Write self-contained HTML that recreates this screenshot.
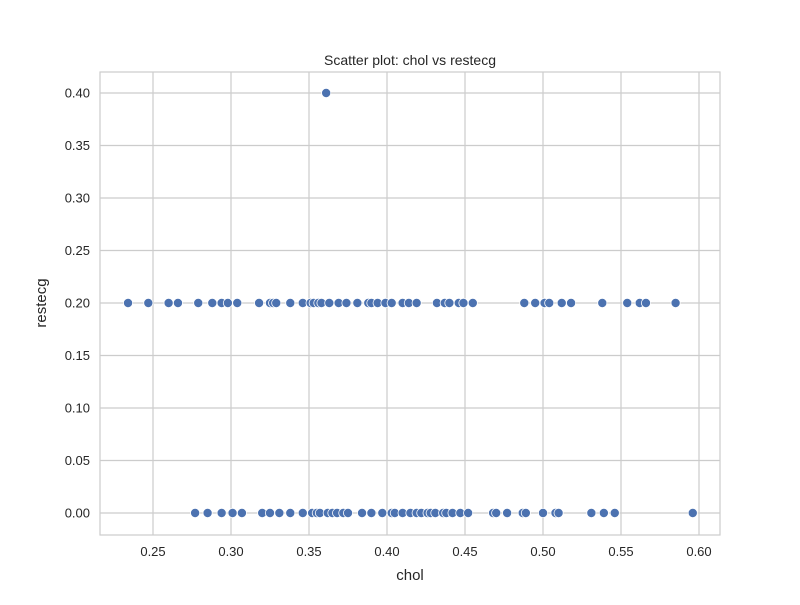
<!DOCTYPE html>
<html><head><meta charset="utf-8"><style>
body{margin:0;background:#fff;font-family:"Liberation Sans","DejaVu Sans",sans-serif;}
svg text{fill:#262626;}
</style></head><body>
<svg id="chart" width="800" height="600" xmlns="http://www.w3.org/2000/svg">
<rect width="800" height="600" fill="#fff"/>
<g id="grid"></g>
<rect x="100" y="72" width="620" height="463" fill="none" stroke="#cccccc" stroke-width="1.2"/>
<g id="ticks"></g>
<g id="points"></g>
<text x="410" y="65" text-anchor="middle" font-size="14">Scatter plot: chol vs restecg</text>
<text x="410" y="580" text-anchor="middle" font-size="15">chol</text>
<text transform="translate(46,303) rotate(-90)" text-anchor="middle" font-size="15">restecg</text>
</svg>
<script>
const xTicks=[0.25,0.30,0.35,0.40,0.45,0.50,0.55,0.60];
const yTicks=[0.00,0.05,0.10,0.15,0.20,0.25,0.30,0.35,0.40];
const cholRow20=[0.234,0.247,0.260,0.266,0.279,0.288,0.294,0.298,0.304,0.318,0.325,0.327,0.329,0.338,0.346,0.351,0.353,0.356,0.358,0.363,0.369,0.374,0.381,0.388,0.390,0.394,0.399,0.403,0.410,0.414,0.419,0.432,0.437,0.440,0.446,0.449,0.455,0.488,0.495,0.501,0.504,0.512,0.518,0.538,0.554,0.562,0.566,0.585];
const cholRow0=[0.277,0.285,0.294,0.301,0.307,0.320,0.325,0.331,0.338,0.346,0.352,0.355,0.357,0.362,0.365,0.368,0.372,0.375,0.384,0.390,0.397,0.403,0.405,0.410,0.415,0.419,0.422,0.426,0.428,0.431,0.436,0.438,0.442,0.447,0.452,0.468,0.470,0.477,0.487,0.489,0.500,0.508,0.510,0.531,0.539,0.546,0.596];
const cholOther=[0.361];
const restOther=[0.40];
const xs=v=>153+(v-0.25)*1560;
const ys=v=>513-v*1050;
const NS="http://www.w3.org/2000/svg";
const grid=document.getElementById('grid'),tk=document.getElementById('ticks'),pts=document.getElementById('points');
function mk(tag,attrs,parent){const e=document.createElementNS(NS,tag);for(const k in attrs)e.setAttribute(k,attrs[k]);parent.appendChild(e);return e;}
xTicks.forEach(t=>{
 const l=mk('line',{x1:xs(t),x2:xs(t),y1:72,y2:535,stroke:'#cccccc','stroke-width':1.2},grid);
 
 
 const tx=mk('text',{x:xs(t),y:556,'text-anchor':'middle','font-size':13},tk);
 tx.textContent=t.toFixed(2);
 
 
});
yTicks.forEach(t=>{
 const l=mk('line',{x1:100,x2:720,y1:ys(t),y2:ys(t),stroke:'#cccccc','stroke-width':1.2},grid);
 
 
 const tx=mk('text',{x:90,y:ys(t)+4.5,'text-anchor':'end','font-size':13},tk);
 tx.textContent=t.toFixed(2);
 
 
});
function dot(x,y){
 const c=mk('circle',{cx:xs(x),cy:ys(y),r:4.6,fill:'#4c72b0',stroke:'#fff','stroke-width':0.8},pts);
 
 
}
cholRow20.forEach(v=>dot(v,0.20));
cholRow0.forEach(v=>dot(v,0.0));
cholOther.forEach((v,i)=>dot(v,restOther[i]));
</script>
</body></html>
